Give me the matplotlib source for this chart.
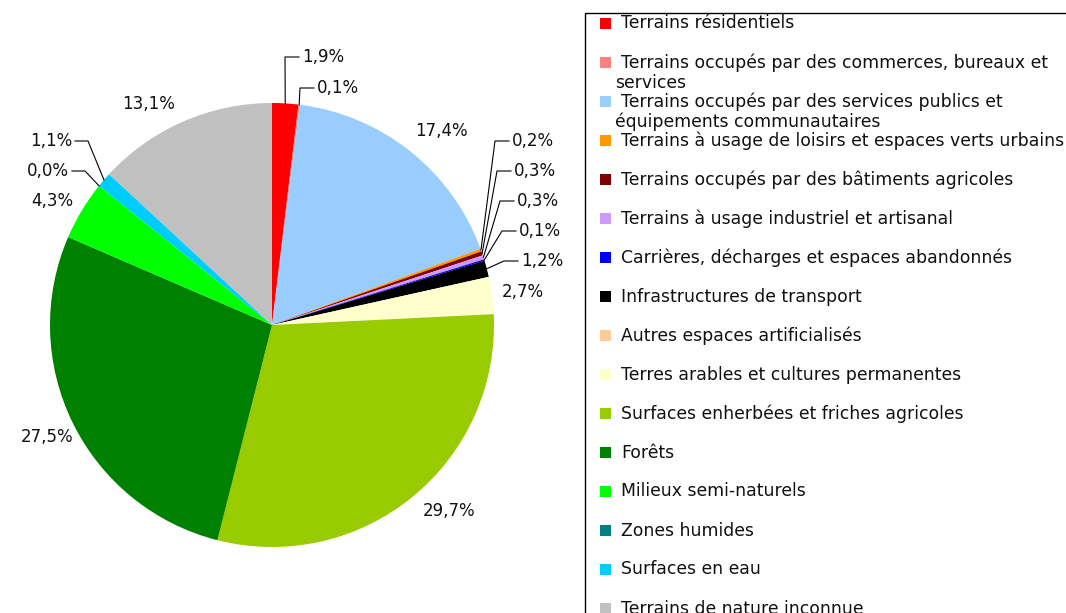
import matplotlib
matplotlib.use("Agg")
import matplotlib.pyplot as plt
from matplotlib.patches import Rectangle
import numpy as np

# données : occupation du sol (%)
categories = [
    "Terrains résidentiels",
    "Terrains occupés par des commerces, bureaux et\nservices",
    "Terrains occupés par des services publics et\néquipements communautaires",
    "Terrains à usage de loisirs et espaces verts urbains",
    "Terrains occupés par des bâtiments agricoles",
    "Terrains à usage industriel et artisanal",
    "Carrières, décharges et espaces abandonnés",
    "Infrastructures de transport",
    "Autres espaces artificialisés",
    "Terres arables et cultures permanentes",
    "Surfaces enherbées et friches agricoles",
    "Forêts",
    "Milieux semi-naturels",
    "Zones humides",
    "Surfaces en eau",
    "Terrains de nature inconnue",
]
values = [1.9, 0.1, 17.4, 0.2, 0.3, 0.3, 0.1, 1.2, 0.0, 2.7, 29.7, 27.5, 4.3, 0.0, 1.1, 13.1]
colors = ["#FF0000", "#FF8080", "#99CCFF", "#FF9900", "#800000", "#CC99FF",
          "#0000FF", "#000000", "#FFCC99", "#FFFFCC", "#99CC00", "#008000",
          "#00FF00", "#008080", "#00CCFF", "#C0C0C0"]

# position des étiquettes (pixels) : x, y, alignement, ligne de rappel
label_pos = {
    0: (302, 57, "left", True),
    1: (317, 88, "left", True),
    2: (441, 131, "center", False),
    3: (512, 141, "left", True),
    4: (514, 171, "left", True),
    5: (517, 201, "left", True),
    6: (519, 231, "left", True),
    7: (521, 261, "left", True),
    9: (502, 292, "left", False),
    10: (449, 511, "center", False),
    11: (47, 437, "center", False),
    12: (73, 201, "right", False),
    13: (69, 171, "right", True),
    14: (72, 141, "right", True),
    15: (149, 104, "center", False),
}

W, H = 1066, 613
cx, cy, r = 272, 325, 222

fig = plt.figure(figsize=(W / 100, H / 100), dpi=100)
ax = fig.add_axes([0, 0, 1, 1])

# axe y inversé -> sens horaire visuel = counterclock en données
ax.pie(values, colors=colors, center=(cx, cy), radius=r, startangle=270,
       counterclock=True, wedgeprops=dict(linewidth=0))
ax.set_xlim(0, W)
ax.set_ylim(H, 0)
ax.set_aspect("equal")
ax.axis("off")

total = sum(values)
cum = np.cumsum([0] + values[:-1])
for i, (x, y, ha, leader) in label_pos.items():
    txt = f"{values[i]:.1f}%".replace(".", ",")
    ax.text(x, y, txt, ha=ha, va="center", fontsize=12, color="#111111")
    if leader:
        theta = np.deg2rad(270 + 360 * (cum[i] + values[i] / 2) / total)
        px, py = cx + r * np.cos(theta), cy + r * np.sin(theta)
        if ha == "left":
            xs = [px, x - 17, x - 3]
        else:
            xs = [px, x + 16, x + 3]
        ax.plot(xs, [py, y, y], color="black", lw=0.8)

# légende dessinée à la main
ax.add_patch(Rectangle((585, 13), 520, 700, fill=False, edgecolor="black", lw=1))
for i, (cat, col) in enumerate(zip(categories, colors)):
    ys = 23.5 + 39 * i
    ax.add_patch(Rectangle((600, ys - 5.5), 11, 11, facecolor=col, edgecolor="none"))
    lines = cat.split("\n")
    ax.text(621, ys, lines[0], ha="left", va="center", fontsize=12.4, color="#111111")
    if len(lines) > 1:
        ax.text(615, ys + 20, lines[1], ha="left", va="center", fontsize=12.4, color="#111111")

fig.savefig("out.png", dpi=100)
